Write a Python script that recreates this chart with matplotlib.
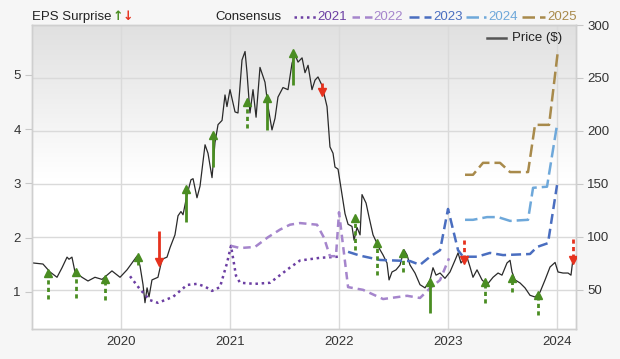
import numpy as np
import matplotlib
matplotlib.use("Agg")
import matplotlib.pyplot as plt
from matplotlib.colors import LinearSegmentedColormap
from matplotlib.lines import Line2D

plt.rcParams['font.family'] = ['Liberation Sans', 'DejaVu Sans']

# share price ($), right axis
price_t = [2019.193, 2019.284, 2019.349, 2019.413, 2019.459, 2019.505, 2019.523, 2019.550,
           2019.578, 2019.642, 2019.697, 2019.761, 2019.826, 2019.917, 2019.991, 2020.055,
           2020.147, 2020.174, 2020.202, 2020.220, 2020.239, 2020.257, 2020.284, 2020.339,
           2020.376, 2020.422, 2020.450, 2020.495, 2020.523, 2020.550, 2020.569, 2020.606,
           2020.642, 2020.661, 2020.697, 2020.725, 2020.771, 2020.798, 2020.835, 2020.862,
           2020.890, 2020.927, 2020.954, 2020.972, 2021.000, 2021.046, 2021.073, 2021.110,
           2021.138, 2021.156, 2021.183, 2021.211, 2021.239, 2021.275, 2021.321, 2021.349,
           2021.385, 2021.413, 2021.440, 2021.486, 2021.532, 2021.569, 2021.596, 2021.624,
           2021.661, 2021.688, 2021.716, 2021.752, 2021.780, 2021.807, 2021.844, 2021.890,
           2021.917, 2021.945, 2021.963, 2021.991, 2022.028, 2022.055, 2022.083, 2022.119,
           2022.138, 2022.165, 2022.193, 2022.211, 2022.248, 2022.275, 2022.312, 2022.349,
           2022.376, 2022.404, 2022.440, 2022.459, 2022.486, 2022.523, 2022.560, 2022.596,
           2022.624, 2022.651, 2022.697, 2022.743, 2022.789, 2022.835, 2022.862, 2022.890,
           2022.927, 2022.972, 2023.018, 2023.064, 2023.092, 2023.119, 2023.156, 2023.174,
           2023.202, 2023.229, 2023.266, 2023.312, 2023.358, 2023.413, 2023.459, 2023.495,
           2023.541, 2023.569, 2023.587, 2023.615, 2023.661, 2023.706, 2023.752, 2023.798,
           2023.844, 2023.890, 2023.936, 2023.982, 2024.009, 2024.055, 2024.101, 2024.128,
           2024.147]
price = [75.5, 74.5, 67, 62, 71, 81, 79, 81,
         67, 62, 58.5, 62, 60, 68, 62, 69,
         82, 73, 55, 38, 52, 43.5, 59.5, 62,
         79, 81, 90, 102, 120, 124, 121, 140,
         154, 155, 137, 148, 187, 179, 156, 189,
         206, 210, 234, 223, 239, 218, 217, 267,
         275, 255, 217, 239, 213, 260, 246, 223,
         201, 212, 232, 241, 239, 264, 272, 265,
         269, 255, 262, 239, 248, 251, 243, 223,
         185, 179, 166, 164, 140, 122, 112, 110,
         97, 109, 102, 140, 132, 119, 102, 94,
         88, 83, 75.5, 59.5, 67, 69, 73.6, 88,
         83, 73.6, 66, 55, 52, 59.5, 71, 64,
         66, 61, 67, 78, 85, 75.5, 80, 81,
         71.7, 62, 69, 59.5, 55, 62, 66, 64,
         75.5, 78, 67, 59.5, 56.6, 52, 45, 43.4,
         48, 59.5, 71.7, 76, 67, 66, 66, 64,
         80]

# consensus EPS estimates per fiscal year, left axis
c2021_t = [2020.083, 2020.174, 2020.266, 2020.339, 2020.477, 2020.606, 2020.697, 2020.771,
           2020.835, 2020.908, 2020.972, 2021.009, 2021.055, 2021.092, 2021.229, 2021.367,
           2021.550, 2021.642, 2021.826, 2021.991]
c2021 = [1.29, 1.05, 0.85, 0.80, 0.91, 1.13, 1.15, 1.10,
         1.02, 1.09, 1.53, 1.85, 1.30, 1.17, 1.15, 1.17,
         1.45, 1.58, 1.63, 1.65]
c2022_t = [2021.009, 2021.092, 2021.229, 2021.349, 2021.459, 2021.550, 2021.642, 2021.798,
           2021.862, 2021.917, 2021.972, 2022.000, 2022.083, 2022.220, 2022.404, 2022.624,
           2022.743, 2022.835, 2022.927, 2023.009]
c2022 = [1.85, 1.81, 1.83, 2.01, 2.15, 2.24, 2.27, 2.24,
         2.00, 1.66, 1.66, 2.47, 1.09, 1.04, 0.87, 0.93,
         0.89, 1.07, 1.22, 1.62]
c2023_t = [2022.083, 2022.193, 2022.376, 2022.651, 2022.743, 2022.835, 2022.927, 2023.000,
           2023.092, 2023.138, 2023.266, 2023.385, 2023.505, 2023.752, 2023.817, 2023.917,
           2024.000]
c2023 = [1.74, 1.67, 1.59, 1.57, 1.50, 1.65, 1.77, 2.53,
         1.77, 1.65, 1.65, 1.72, 1.68, 1.70, 1.83, 1.90,
         2.97]
c2024_t = [2023.156, 2023.229, 2023.358, 2023.459, 2023.569, 2023.734, 2023.780, 2023.908, 2024.000]
c2024 = [2.33, 2.33, 2.38, 2.38, 2.31, 2.33, 2.92, 2.94, 4.08]
c2025_t = [2023.156, 2023.229, 2023.321, 2023.477, 2023.569, 2023.734, 2023.798, 2023.927, 2024.009]
c2025 = [3.16, 3.16, 3.38, 3.38, 3.21, 3.21, 4.08, 4.08, 5.46]

# EPS surprises: report date, estimate, actual, solid (True) or dotted
surp_t = [2019.330, 2019.587, 2019.853, 2020.156, 2020.349, 2020.596, 2020.844, 2021.156,
          2021.339, 2021.578, 2021.844, 2022.147, 2022.349, 2022.587, 2022.835, 2023.147,
          2023.339, 2023.587, 2023.826, 2024.147]
surp_est = [0.87, 0.89, 0.85, 1.50, 2.12, 2.29, 3.30, 4.02,
            3.99, 4.82, 4.85, 1.77, 1.31, 1.37, 0.61, 1.96,
            0.80, 1.00, 0.58, 1.98]
surp_act = [1.35, 1.37, 1.24, 1.65, 1.55, 2.90, 3.89, 4.50,
            4.58, 5.41, 4.69, 2.36, 1.90, 1.72, 1.18, 1.59,
            1.18, 1.26, 0.95, 1.59]
surp_solid = [False, False, False, True, True, True, True, False,
              True, True, True, False, False, False, True, False,
              False, False, False, False]

years = [2020, 2021, 2022, 2023, 2024]
eps_ticks = [1, 2, 3, 4, 5]
price_ticks = [50, 100, 150, 200, 250, 300]

series = [("2021", c2021_t, c2021, '#6c3fa3', (1, 1.5)),
          ("2022", c2022_t, c2022, '#a585cc', (3, 2)),
          ("2023", c2023_t, c2023, '#4a6ec0', (4, 2)),
          ("2024", c2024_t, c2024, '#6ea8da', (5, 2)),
          ("2025", c2025_t, c2025, '#a88a4b', (5, 2))]
green = '#4a8d22'
red = '#e6321e'
tick_col = '#333333'

W, H = 620, 359
fig = plt.figure(figsize=(W / 100, H / 100), dpi=100)
fig.patch.set_facecolor('#f6f6f6')

ax = fig.add_axes([32 / W, 30 / H, 544 / W, 304 / H])   # price axis (right)
ax2 = ax.twinx()                                          # EPS axis (left)

# background gradient of the plot area
cmap = LinearSegmentedColormap.from_list('bg', [(0, '#ffffff'), (0.5, '#ffffff'), (1, '#e0e0e0')])
ax.imshow(np.linspace(1, 0, 256)[:, None], cmap=cmap, vmin=0, vmax=1, aspect='auto',
          extent=[0, 1, 0, 1], transform=ax.transAxes, zorder=-10, interpolation='bilinear')

ax.plot(price_t, price, color='#2a2a2a', lw=0.9, zorder=3)

for name, t, v, col, dash in series:
    ax2.plot(t, v, color=col, lw=1.8, dashes=dash, zorder=2)

for t, e, a, solid in zip(surp_t, surp_est, surp_act, surp_solid):
    col = green if a > e else red
    mk = '^' if a > e else 'v'
    if solid:
        ax2.plot([t, t], [e, a], color=col, lw=2.0, zorder=4, solid_capstyle='butt')
    else:
        ax2.plot([t, t], [e, a], color=col, lw=2.0, dashes=(1.5, 1.2), zorder=4)
    ax2.plot(t, a, marker=mk, color=col, ms=5.5, mec=col, zorder=5)

ax.set_xlim(2019.1835, 2024.174)
ax.set_ylim(13.2, 300)
ax2.set_ylim(0.318, 5.92)

ax.set_xticks(years)
ax.set_xticklabels([str(y) for y in years])
ax.set_yticks(price_ticks)
ax.yaxis.tick_right()
ax2.set_yticks(eps_ticks)
ax2.yaxis.tick_left()

ax.grid(True, color='#dadada', lw=1.0, zorder=0)
ax.set_axisbelow(True)
ax.tick_params(axis='x', length=0, pad=5, labelsize=9.5, labelcolor=tick_col)
ax.tick_params(axis='y', length=5, color='#c8c8c8', pad=3, labelsize=9.5, labelcolor=tick_col)
ax2.tick_params(axis='y', length=5, color='#c8c8c8', pad=3, labelsize=9.5, labelcolor=tick_col)
for a_ in (ax, ax2):
    for s in a_.spines.values():
        s.set_color('#cfcfcf')
        s.set_linewidth(1.0)


def fx(x):
    return x / W


def fy(y):
    return 1 - y / H


# legend row above the plot
fig.text(fx(32), fy(17), "EPS Surprise", fontsize=9.5, color='#222222', va='center')
fig.text(fx(113), fy(17), "↑", fontsize=9, color=green, va='center', fontweight='bold',
         family='DejaVu Sans')
fig.text(fx(123), fy(17), "↓", fontsize=9, color=red, va='center', fontweight='bold',
         family='DejaVu Sans')
fig.text(fx(215), fy(17), "Consensus", fontsize=9.5, color='#222222', va='center')
lx = [(294, 316, 317), (352, 372, 373), (409, 431, 433), (466, 486, 488), (522, 545, 547)]
for (name, t, v, col, dash), (x0, x1, xt) in zip(series, lx):
    fig.add_artist(Line2D([fx(x0), fx(x1)], [fy(17), fy(17)], transform=fig.transFigure,
                          color=col, lw=1.8, dashes=dash))
    fig.text(fx(xt), fy(17), name, fontsize=9.5, color=col, va='center')

fig.add_artist(Line2D([fx(487), fx(506)], [fy(38), fy(38)], transform=fig.transFigure,
                      color='#555555', lw=1.8))
fig.text(fx(512), fy(38), "Price ($)", fontsize=9.5, color='#222222', va='center')

fig.savefig('out.png', dpi=100, facecolor=fig.get_facecolor())
